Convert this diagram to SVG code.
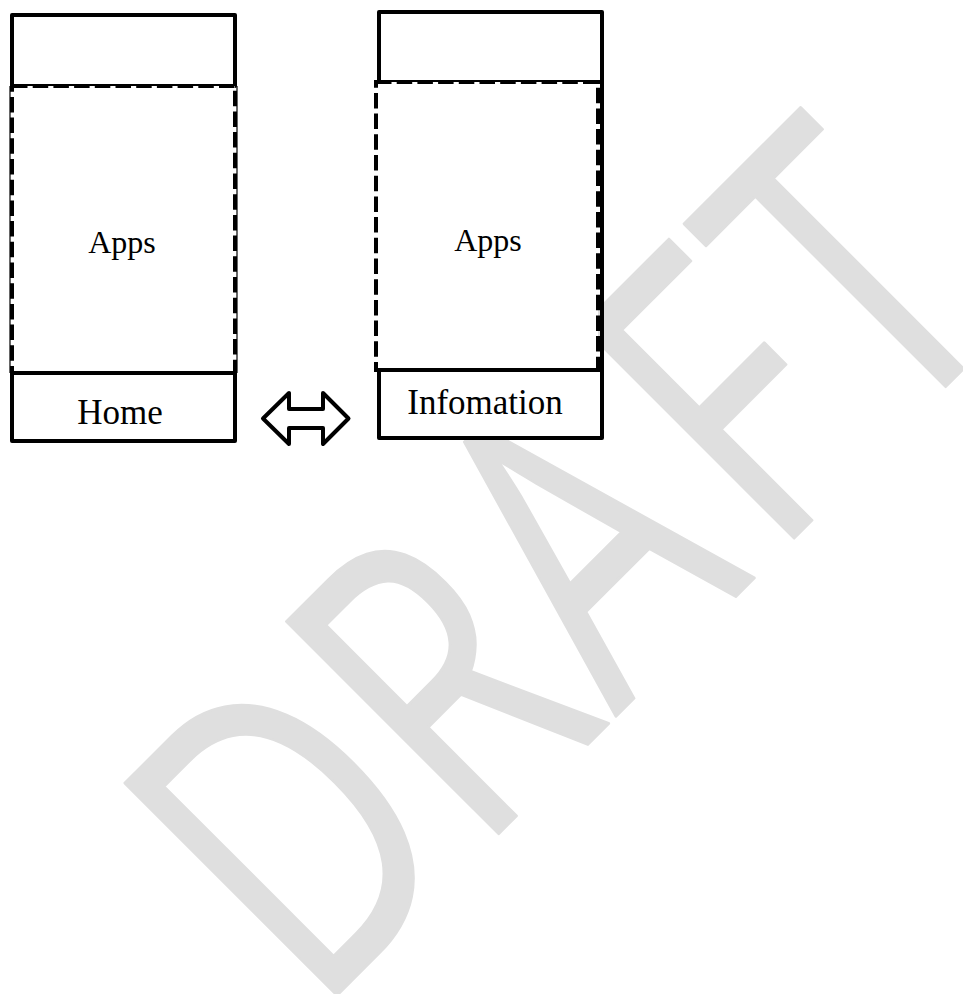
<svg xmlns="http://www.w3.org/2000/svg" width="963" height="994" viewBox="0 0 963 994">
<style>
.wm{font-family:"Open Sans","Liberation Sans",sans-serif;font-size:420px;fill:#dfdfdf;stroke:#dfdfdf;stroke-width:3;stroke-linejoin:round}
.solid{fill:#fff;stroke:#000;stroke-width:4;stroke-linejoin:round}
.dash{fill:#fff;stroke:#000;stroke-width:4;stroke-dasharray:15.5 5.2}
.line{fill:none;stroke:#000;stroke-width:4}
.thin{fill:none;stroke:#000;stroke-width:1.2}
.lbl{font-family:"Liberation Serif","Times New Roman",serif;fill:#000;text-anchor:middle}
</style>
<rect width="963" height="994" fill="#fff"/>
<g id="watermark">
<text class="wm" transform="rotate(-45) scale(0.74,1)" text-anchor="middle" x="-518 -232 36.5 311.6 551.4" y="942">DRAFT</text>
</g>
<g id="home-screen">
<rect class="solid" x="12" y="15" width="223" height="71"/>
<line class="thin" x1="10" y1="86" x2="10" y2="373"/>
<line class="thin" x1="237" y1="86" x2="237" y2="373"/>
<rect class="dash" x="12" y="86" width="223" height="287"/>
<rect class="solid" x="12" y="373" width="223" height="68"/>
<text class="lbl" x="122" y="253" font-size="32">Apps</text>
<text class="lbl" x="120" y="424" font-size="35">Home</text>
</g>
<g id="info-screen">
<rect class="solid" x="379" y="12" width="223" height="70"/>
<rect class="dash" x="376" y="82" width="222" height="288"/>
<line class="line" x1="602" y1="82" x2="602" y2="370"/>
<rect class="solid" x="379" y="370" width="223" height="68"/>
<text class="lbl" x="488" y="251" font-size="32">Apps</text>
<text class="lbl" x="485" y="414" font-size="35">Infomation</text>
</g>
<g id="connectors">
<polygon class="solid" points="263,418.5 289,393 289,409 323,409 323,393 348.5,418.5 323,444 323,428 289,428 289,444"/>
</g>
</svg>
